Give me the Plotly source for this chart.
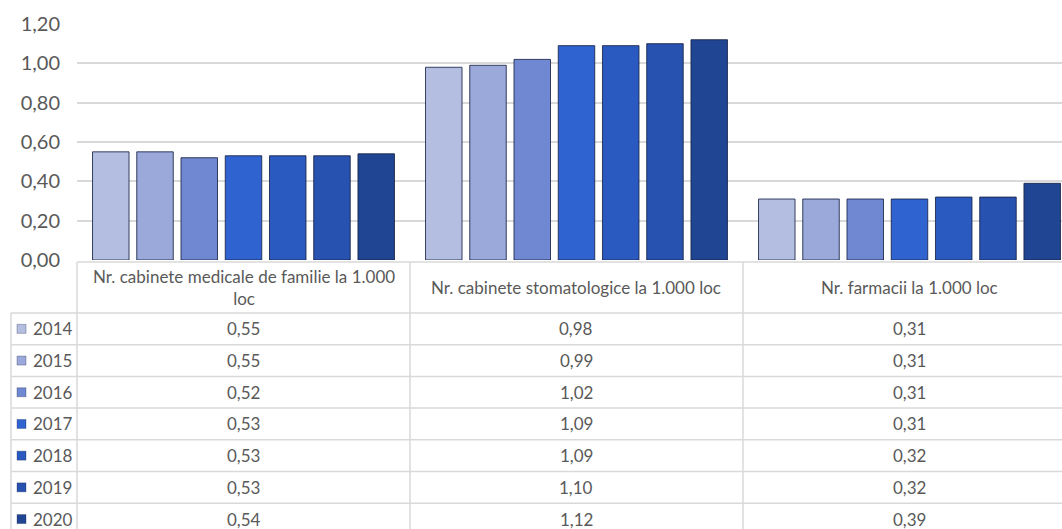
import plotly.graph_objects as go

W, H = 1062, 529

# --- data ---
categories = ["Nr. cabinete medicale de familie la 1.000 loc",
              "Nr. cabinete stomatologice la 1.000 loc",
              "Nr. farmacii la 1.000 loc"]
header_labels = ["Nr. cabinete medicale de familie la 1.000<br>loc",
                 "Nr. cabinete stomatologice la 1.000 loc",
                 "Nr. farmacii la 1.000 loc"]
years = ["2014", "2015", "2016", "2017", "2018", "2019", "2020"]
v2014 = [0.55, 0.98, 0.31]
v2015 = [0.55, 0.99, 0.31]
v2016 = [0.52, 1.02, 0.31]
v2017 = [0.53, 1.09, 0.31]
v2018 = [0.53, 1.09, 0.32]
v2019 = [0.53, 1.10, 0.32]
v2020 = [0.54, 1.12, 0.39]
values = [v2014, v2015, v2016, v2017, v2018, v2019, v2020]

COLORS = ["#b4bee0", "#9ba8da", "#7088d2", "#2e63d0", "#2a5ac0", "#2752b0", "#1f4593"]
GRID = "#d9d9d9"
TXT = "#595959"
FONT = "Lato"

# layout in pixels
PLOT_L, PLOT_T, PLOT_B = 77, 24, 260
HEAD_T, HEAD_B = 262, 313
ROW_H = 31.7
LEG_L = 11


def px(x):
    return x / W


def py(y):
    return 1 - y / H


fig = go.Figure()
for yr, vals, col in zip(years, values, COLORS):
    fig.add_trace(go.Bar(x=categories, y=vals, name=yr, showlegend=False,
                         marker=dict(color=col, line=dict(color="rgba(25,35,70,0.85)", width=1))))

shapes = []
annotations = []
line = dict(color=GRID, width=1.5)

# --- data table under the plot ---
shapes.append(dict(type="line", xref="paper", yref="paper", x0=px(PLOT_L), x1=1,
                   y0=py(HEAD_T), y1=py(HEAD_T), line=line))
rows_bottom = HEAD_B + ROW_H * len(years)
for i in range(len(years) + 1):
    y = HEAD_B + i * ROW_H
    shapes.append(dict(type="line", xref="paper", yref="paper", x0=px(LEG_L), x1=1,
                       y0=py(y), y1=py(y), line=line))
shapes.append(dict(type="line", xref="paper", yref="paper", x0=px(LEG_L), x1=px(LEG_L),
                   y0=py(HEAD_B), y1=py(rows_bottom), line=line))
shapes.append(dict(type="line", xref="paper", yref="paper", x0=px(PLOT_L), x1=px(PLOT_L),
                   y0=py(HEAD_T), y1=py(rows_bottom), line=line))
for b in [0.5, 1.5]:
    shapes.append(dict(type="line", xref="x", yref="paper", x0=b, x1=b,
                       y0=py(HEAD_T), y1=py(rows_bottom), line=line))

for cat, lab in zip(categories, header_labels):
    annotations.append(dict(x=cat, xref="x", y=py((HEAD_T + HEAD_B) / 2), yref="paper",
                            text=lab, showarrow=False, yanchor="middle",
                            font=dict(family=FONT, size=17, color=TXT)))

for i, (yr, vals, col) in enumerate(zip(years, values, COLORS)):
    yc = HEAD_B + (i + 0.5) * ROW_H
    # legend key
    shapes.append(dict(type="rect", xref="paper", yref="paper", x0=px(17), x1=px(26),
                       y0=py(yc - 4.5), y1=py(yc + 4.5), fillcolor=col,
                       line=dict(color="rgba(25,35,70,0.6)", width=0.5)))
    annotations.append(dict(x=px(31), xref="paper", y=py(yc), yref="paper", text=yr,
                            showarrow=False, xanchor="left", yanchor="middle",
                            font=dict(family=FONT, size=17, color=TXT)))
    for cat, v in zip(categories, vals):
        annotations.append(dict(x=cat, xref="x", y=py(yc), yref="paper",
                                text=f"{v:.2f}".replace(".", ","), showarrow=False,
                                yanchor="middle", font=dict(family=FONT, size=17, color=TXT)))

fig.update_layout(
    width=W, height=H,
    margin=dict(l=0, r=0, t=0, b=0),
    paper_bgcolor="white", plot_bgcolor="white",
    separators=",.",
    barmode="group", bargap=0.07, bargroupgap=0.175,
    font=dict(family=FONT, color=TXT),
    xaxis=dict(domain=[px(PLOT_L), 1], range=[-0.5, 2.458], showticklabels=False,
               showgrid=False, zeroline=False, showline=False, automargin=False),
    yaxis=dict(domain=[py(PLOT_B), py(PLOT_T)], range=[0, 1.2], dtick=0.2,
               tickformat=".2f", gridcolor=GRID, gridwidth=1.5, zeroline=False,
               automargin=False, ticklabelstandoff=16,
               tickfont=dict(family=FONT, size=20, color=TXT)),
    shapes=shapes,
    annotations=annotations,
)

fig.write_html("out.html", config={"displayModeBar": False},
               post_script="document.body.style.margin='0';")
